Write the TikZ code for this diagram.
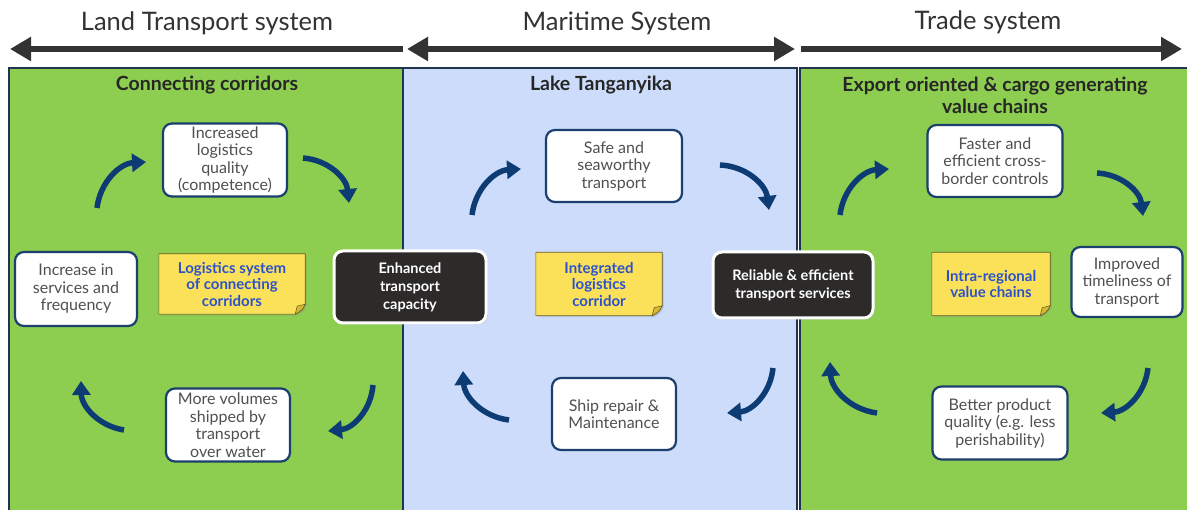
\documentclass[tikz,border=0pt]{standalone}
\usepackage{fontspec}
\setmainfont{Lato}
\usetikzlibrary{arrows.meta,shadows,backgrounds}
\definecolor{panelgreen}{HTML}{8DCE50}
\definecolor{panelblue}{HTML}{CCDCFA}
\definecolor{panelline}{HTML}{1F3550}
\definecolor{cyclenavy}{HTML}{0D3B73}
\definecolor{boxblue}{HTML}{1B3F6E}
\definecolor{boxtext}{HTML}{505050}
\definecolor{darkbox}{HTML}{2D2A2A}
\definecolor{notefill}{HTML}{FBE05A}
\definecolor{notefold}{HTML}{D8B935}
\definecolor{noteline}{HTML}{6B5E22}
\definecolor{noteblue}{HTML}{2C52C9}
\definecolor{headgray}{HTML}{333333}
\pgfdeclarelayer{notelayer}
\pgfsetlayers{background,notelayer,main}
\begin{document}
\begin{tikzpicture}[x=1pt,y=-1pt,
  sysarrow/.style={draw=headgray, line width=6.5pt},
  systitle/.style={text=headgray, font=\fontsize{25.5}{30}\selectfont, inner sep=0pt},
  paneltitle/.style={text=black!85, font=\bfseries\fontsize{19.5}{22}\selectfont, align=center, inner sep=0pt},
  wbox/.style={draw=boxblue, line width=2.2pt, fill=white, rounded corners=9pt, align=center,
    text=boxtext, font=\fontsize{16}{17.5}\selectfont, inner sep=1pt},
  dbox/.style={draw=white, line width=3pt, fill=darkbox, rounded corners=9pt, align=center,
    text=white, font=\bfseries\fontsize{14.5}{18}\selectfont, inner sep=1pt,
    drop shadow={opacity=0.35, shadow xshift=1.5pt, shadow yshift=-1.5pt}},
  notetext/.style={align=center, text=noteblue, font=\bfseries\fontsize{15}{16.5}\selectfont, inner sep=1pt},
  cyc/.style={draw=cyclenavy, line width=5.5pt, -{Triangle[width=18pt,length=14pt]}, bend left=40}
]
\useasboundingbox (0,0) rectangle (1187,510);
\begin{scope}[on background layer]
  \fill[white] (0,0) rectangle (1187,510);
  \fill[panelgreen] (9,68) rectangle (402,510);
  \fill[panelblue] (403,68) rectangle (797,510);
  \fill[panelgreen] (800,68) rectangle (1187,510);
  \draw[panelline, line width=1.3pt] (9,510) -- (9,68) -- (402,68);
  \draw[panelline, line width=1.3pt] (403,510) -- (403,68) -- (797,68) -- (797,510);
  \draw[panelline, line width=1.3pt] (800,510) -- (800,68) -- (1187,68);
\end{scope}

% system headings and arrows
\node[systitle] (tland) at (207,23) {Land Transport system};
\node[systitle] (tmar) at (617,23) {Maritime System};
\node[systitle] (ttrade) at (988,22) {Trade system};
\coordinate (la) at (10,49);
\coordinate (lb) at (403,49);
\coordinate (ma) at (407,49);
\coordinate (mb) at (795,49);
\coordinate (ra) at (801,49);
\coordinate (rb) at (1182,49);
\draw[sysarrow, {Triangle[width=23pt,length=21pt]}-] (la) -- (lb);
\draw[sysarrow, {Triangle[width=23pt,length=21pt]}-{Triangle[width=23pt,length=21pt]}] (ma) -- (mb);
\draw[sysarrow, -{Triangle[width=23pt,length=21pt]}] (ra) -- (rb);

% panel titles
\node[paneltitle] (p1) at (207,85) {Connecting corridors};
\node[paneltitle] (p2) at (601,85) {Lake Tanganyika};
\node[paneltitle] (p3) at (995,95) {Export oriented \& cargo generating\\value chains};

% left cycle
\node[wbox, minimum width=124pt, minimum height=73pt] (l1) at (225,160) {Increased\\logistics\\quality\\(competence)};
\node[wbox, minimum width=122pt, minimum height=74pt] (l2) at (76,289) {Increase in\\services and\\frequency};
\node[wbox, minimum width=124pt, minimum height=73pt] (l3) at (228,425) {More volumes\\shipped by\\transport\\over water};
\node[notetext, minimum width=146pt, minimum height=60pt] (n1) at (232,284) {Logistics system\\of connecting\\corridors};

% middle cycle
\node[wbox, minimum width=136pt, minimum height=72pt] (m1) at (614,166) {Safe and\\seaworthy\\transport};
\node[wbox, minimum width=124pt, minimum height=72pt] (m3) at (614,414) {Ship repair \&\\Maintenance};
\node[notetext, minimum width=126pt, minimum height=63pt] (n2) at (599,284) {Integrated\\logistics\\corridor};

% right cycle
\node[wbox, minimum width=135pt, minimum height=72pt] (r1) at (995,161) {Faster and\\efficient cross-\\border controls};
\node[wbox, minimum width=111pt, minimum height=70pt] (r2) at (1127,282) {Improved\\timeliness of\\transport};
\node[wbox, minimum width=135pt, minimum height=73pt] (r3) at (1000,423) {Better product\\quality (e.g. less\\perishability)};
\node[notetext, minimum width=118pt, minimum height=63pt] (n3) at (991,284) {Intra-regional\\value chains};

% linking dark boxes
\node[dbox, minimum width=152pt, minimum height=72pt] (d1) at (410,287) {Enhanced\\transport\\capacity};
\node[dbox, minimum width=160pt, minimum height=66pt] (d2) at (793,285) {Reliable \& efficient\\transport services};

% sticky notes
\begin{pgfonlayer}{notelayer}
\foreach \n in {n1,n2,n3}{
  \filldraw[fill=notefill, draw=noteline, line width=0.6pt,
    drop shadow={opacity=0.3, shadow xshift=1.5pt, shadow yshift=-1.5pt}]
    (\n.north west) -- (\n.north east) -- ([yshift=10pt]\n.south east)
    .. controls ([xshift=-3pt,yshift=4pt]\n.south east) .. ([xshift=-10pt]\n.south east)
    -- (\n.south west) -- cycle;
  \filldraw[fill=notefold, draw=noteline, line width=0.6pt]
    ([yshift=10pt]\n.south east) -- ([xshift=-8pt,yshift=8pt]\n.south east) -- ([xshift=-10pt]\n.south east)
    .. controls ([xshift=-3pt,yshift=4pt]\n.south east) .. cycle;
}
\end{pgfonlayer}

% cycle arrows
\coordinate (L1s) at (97,208);   \coordinate (L1e) at (146,162);
\coordinate (L2s) at (303,158);  \coordinate (L2e) at (349,203);
\coordinate (L3s) at (373,385);  \coordinate (L3e) at (328,431);
\coordinate (L4s) at (124,430);  \coordinate (L4e) at (81,381);
\coordinate (M1s) at (472,215);  \coordinate (M1e) at (521,169);
\coordinate (M2s) at (720,165);  \coordinate (M2e) at (769,210);
\coordinate (M3s) at (773,368);  \coordinate (M3e) at (727,413);
\coordinate (M4s) at (509,420);  \coordinate (M4e) at (463,371);
\coordinate (R1s) at (840,215);  \coordinate (R1e) at (889,169);
\coordinate (R2s) at (1097,173); \coordinate (R2e) at (1143,216);
\coordinate (R3s) at (1148,368); \coordinate (R3e) at (1101,413);
\coordinate (R4s) at (877,413);  \coordinate (R4e) at (830,362);
\foreach \a in {L1,L2,L3,L4,M1,M2,M3,M4,R1,R2,R3,R4}{
  \draw[cyc] (\a s) to (\a e);
}
\end{tikzpicture}
\end{document}
